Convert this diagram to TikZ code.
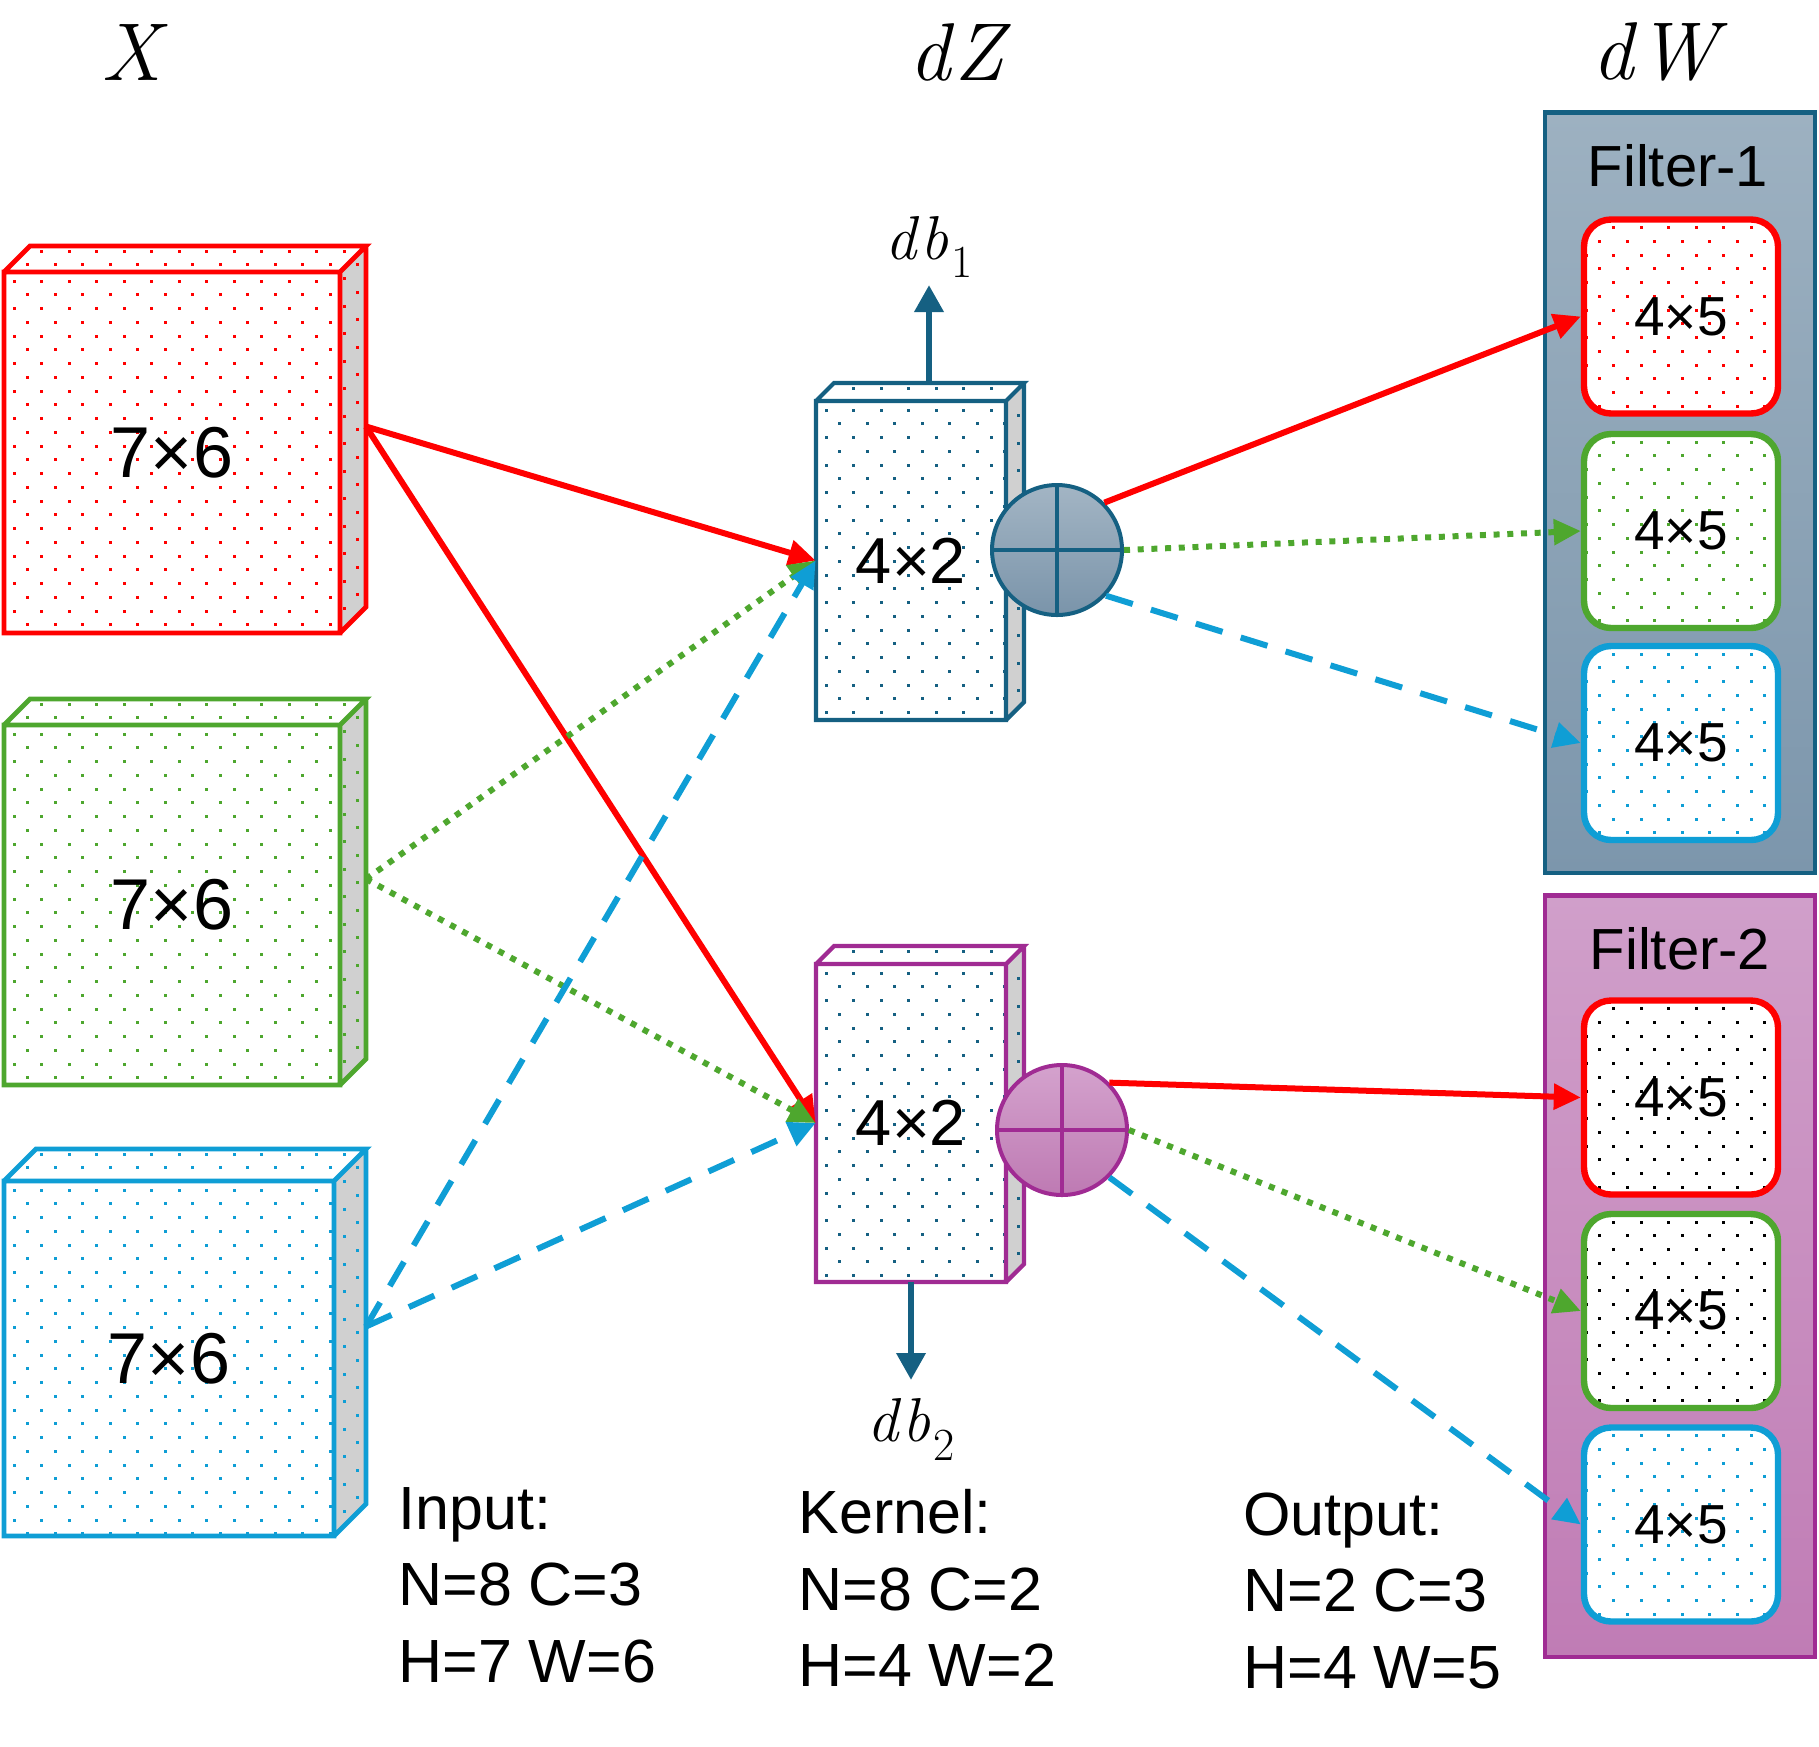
\documentclass[tikz,border=0pt]{standalone}
\usepackage{fontspec}
\setsansfont{Liberation Sans}
\usetikzlibrary{arrows.meta}

\definecolor{cred}{HTML}{FF0000}
\definecolor{cgreen}{HTML}{4EA72E}
\definecolor{cblue}{HTML}{0F9ED5}
\definecolor{cteal}{HTML}{156082}
\definecolor{cpurple}{HTML}{A02B93}
\definecolor{cside}{HTML}{D0D0D0}
\definecolor{ponetop}{HTML}{9DB1C1}
\definecolor{ponebot}{HTML}{7C96AC}
\definecolor{ptwotop}{HTML}{D09FCA}
\definecolor{ptwobot}{HTML}{C07CB5}
\definecolor{conetop}{HTML}{A3B5C4}
\definecolor{conebot}{HTML}{7A94AA}
\definecolor{ctwotop}{HTML}{D4A2CD}
\definecolor{ctwobot}{HTML}{BE7AB3}

\newcommand\cubefont{\sffamily\fontsize{36}{43}\selectfont}
\newcommand\kernfont{\sffamily\fontsize{32.5}{39}\selectfont}
% italic symbol with an upright index below the baseline
\newcommand\symsub[2]{#1\kern0.04em\raisebox{-0.3em}{\upshape\fontsize{23}{27}\selectfont #2}}

% staggered lattice of small square dots: x1, y1, x2, y2, colour
\newcommand\dotgrid[5]{%
  \pgfmathtruncatemacro\dgnc{((#3)-(#1))/27.5}%
  \pgfmathtruncatemacro\dgnr{((#4)-(#2))/13.75}%
  \foreach \dgj in {0,...,\dgnr}{%
    \foreach \dgi in {0,...,\dgnc}{%
      \fill[#5] ({(#1)+27.5*\dgi+13.75*mod(\dgj,2)-1.5},{(#2)+13.75*\dgj-1.5}) rectangle ++(3,3);
    }}}

% box drawn in oblique view: name, x, y, width, height, depth, edge colour, dot colour, label
\newcommand\cube[9]{%
  \fill[white] (#2,#3) rectangle ++(#4,#5);
  \begin{scope}\clip (#2,#3) rectangle ++(#4,#5);
    \dotgrid{#2+10}{#3+9}{#2+#4}{#3+#5}{#8}\end{scope}
  \fill[white] (#2,#3) -- ++(#6,-#6) -- ++(#4,0) -- ++(-#6,#6) -- cycle;
  \begin{scope}\clip (#2,#3) -- ++(#6,-#6) -- ++(#4,0) -- ++(-#6,#6) -- cycle;
    \dotgrid{#2+10}{#3-#6+5}{#2+#4+#6}{#3}{#8}\end{scope}
  \fill[cside] ({#2+#4},#3) -- ++(#6,-#6) -- ++(0,#5) -- ++(-#6,#6) -- cycle;
  \begin{scope}\clip ({#2+#4},#3) -- ++(#6,-#6) -- ++(0,#5) -- ++(-#6,#6) -- cycle;
    \dotgrid{#2+10}{#3-#6+5}{#2+#4+#6}{#3+#5}{#8}\end{scope}
  \draw[#7, line join=miter]
    (#2,#3) rectangle ++(#4,#5)
    (#2,#3) -- ++(#6,-#6) -- ++(#4,0) -- ++(-#6,#6)
    ++(#6,-#6) -- ++(0,#5) -- ++(-#6,#6);
  \node[inner sep=0, minimum width={(#4)*0.5pt}, minimum height={(#5)*0.5pt}]
    (#1) at ({#2+#4/2},{#3+#5/2}) {#9};
  \coordinate (#1-back) at ({#2+#4+#6},{#3+#5/2-#6});
  \coordinate (#1-top) at ({#2+#4/2+#6},{#3-#6});
  \coordinate (#1-bottom) at ({#2+#4/2},{#3+#5});
}

% rounded filter tile: name, centre x, centre y, edge colour, dot colour
\newcommand\fsquare[5]{%
  \fill[white, rounded corners=13.5pt] ({#2-97},{#3-97}) rectangle ({#2+97},{#3+97});
  \begin{scope}\clip[rounded corners=13.5pt] ({#2-97},{#3-97}) rectangle ({#2+97},{#3+97});
    \dotgrid{#2-95}{#3-89}{#2+97}{#3+97}{#5}\end{scope}
  \node[draw=#4, line width=3.2pt, rounded corners=13.5pt, minimum width=97pt,
    minimum height=97pt, inner sep=0, font=\sffamily\fontsize{27.5}{33}\selectfont]
    (#1) at (#2,#3) {4×5};
}

\begin{document}
\begin{tikzpicture}[x=0.5pt, y=-0.5pt,
  conn/.style={line width=3pt, -{Triangle[length=13.5pt,width=12.5pt]}},
  redc/.style={conn, cred},
  greenc/.style={conn, cgreen, dash pattern=on 3pt off 3.85pt},
  bluec/.style={conn, cblue, dash pattern=on 14pt off 9.5pt},
  dbarrow/.style={line width=3.3pt, cteal, -{Triangle[length=13.5pt,width=14pt]}},
  headlabel/.style={font=\rmfamily\itshape\fontsize{41}{49}\selectfont, inner sep=0},
  dblabel/.style={font=\rmfamily\itshape\fontsize{31}{37}\selectfont},
  infotext/.style={font=\sffamily\fontsize{30.5}{38.3}\selectfont, align=left, inner sep=0, anchor=north west},
  paneltitle/.style={font=\sffamily\fontsize{29}{35}\selectfont, inner sep=0},
  panel/.style={line width=2.3pt, minimum width=135pt, inner sep=0},
  sumnode/.style={circle, line width=2pt, minimum size=65pt, inner sep=0},
  cubeedge/.style={line width=2.4pt},
  kernedge/.style={line width=2.1pt}
]
\useasboundingbox (0,0) rectangle (1819,1746);

% column headings
\node[headlabel] (hx) at (131,52) {X};
\node[headlabel] (hdz) at (957,52) {d\kern0.05em Z};
\node[headlabel] (hdw) at (1655,52) {d\kern0.05em W};

% filter panels
\node[panel, draw=cteal, top color=ponetop, bottom color=ponebot, minimum height=380.25pt]
  (fil1) at (1680,492.75) {};
\node[panel, draw=cpurple, top color=ptwotop, bottom color=ptwobot, minimum height=380.75pt]
  (fil2) at (1680,1276.25) {};
\node[paneltitle] (fil1t) at (1678,166) {Filter-1};
\node[paneltitle] (fil2t) at (1680,949) {Filter-2};

\fsquare{f1r}{1681}{316.5}{cred}{cred}
\fsquare{f1g}{1681}{531}{cgreen}{cgreen}
\fsquare{f1b}{1681}{743}{cblue}{cblue}
\fsquare{f2r}{1681}{1097.5}{cred}{black}
\fsquare{f2g}{1681}{1311}{cgreen}{black}
\fsquare{f2b}{1681}{1524.5}{cblue}{cblue}

% input channels
\cube{x1}{4}{272}{336}{361}{26}{cred,cubeedge}{cred}{\cubefont 7×6}
\cube{x2}{4}{725}{336}{360}{26}{cgreen,cubeedge}{cgreen}{\cubefont 7×6}
\cube{x3}{4}{1181}{330}{355}{32}{cblue,cubeedge}{cblue}{\cubefont 7×6}

% kernels
\cube{k1}{816}{401}{190}{319}{18}{cteal,kernedge}{cteal}{\kernfont 4×2}
\cube{k2}{816}{964}{190}{318}{18}{cpurple,kernedge}{cteal}{\kernfont 4×2}

% input to kernel connections
\draw[redc] (x1-back) -- (k1.west);
\draw[redc] (x1-back) -- (k2.west);
\draw[greenc] (x2-back) -- (k1.west);
\draw[greenc] (x2-back) -- (k2.west);
\draw[bluec] (x3-back) -- (k1.west);
\draw[bluec] (x3-back) -- (k2.west);

% summing junctions
\node[sumnode, draw=cteal, top color=conetop, bottom color=conebot] (c1) at (1057,550) {};
\draw[cteal, line width=2pt] (c1.north) -- (c1.south) (c1.west) -- (c1.east);
\node[sumnode, draw=cpurple, top color=ctwotop, bottom color=ctwobot] (c2) at (1062,1130) {};
\draw[cpurple, line width=2pt] (c2.north) -- (c2.south) (c2.west) -- (c2.east);

\draw[redc] (c1.45) -- (f1r.west);
\draw[greenc] (c1.east) -- (f1g.west);
\draw[bluec] (c1.-43) -- (f1b.west);
\draw[redc] (c2.45) -- (f2r.west);
\draw[greenc] (c2.east) -- (f2g.west);
\draw[bluec] (c2.-45) -- (f2b.west);

% bias gradients
\node[dblabel, anchor=south, inner xsep=0, inner ysep=3.5pt] (db1) at (929,285)
  {\symsub{d\kern0.06em b}{1}};
\draw[dbarrow] (k1-top) -- (db1.south);
\node[dblabel, anchor=north, inner xsep=0, inner ysep=9pt] (db2) at (911,1380)
  {\symsub{d\kern0.06em b}{2}};
\draw[dbarrow] (k2-bottom) -- (db2.north);

% shape summaries
\node[infotext] (intxt) at (398,1487) {Input:\\N=8 C=3\\H=7 W=6};
\node[infotext] (kertxt) at (798,1489) {Kernel:\\N=8 C=2\\H=4 W=2};
\node[infotext] (outtxt) at (1243,1492) {Output:\\N=2 C=3\\H=4 W=5};
\end{tikzpicture}
\end{document}
